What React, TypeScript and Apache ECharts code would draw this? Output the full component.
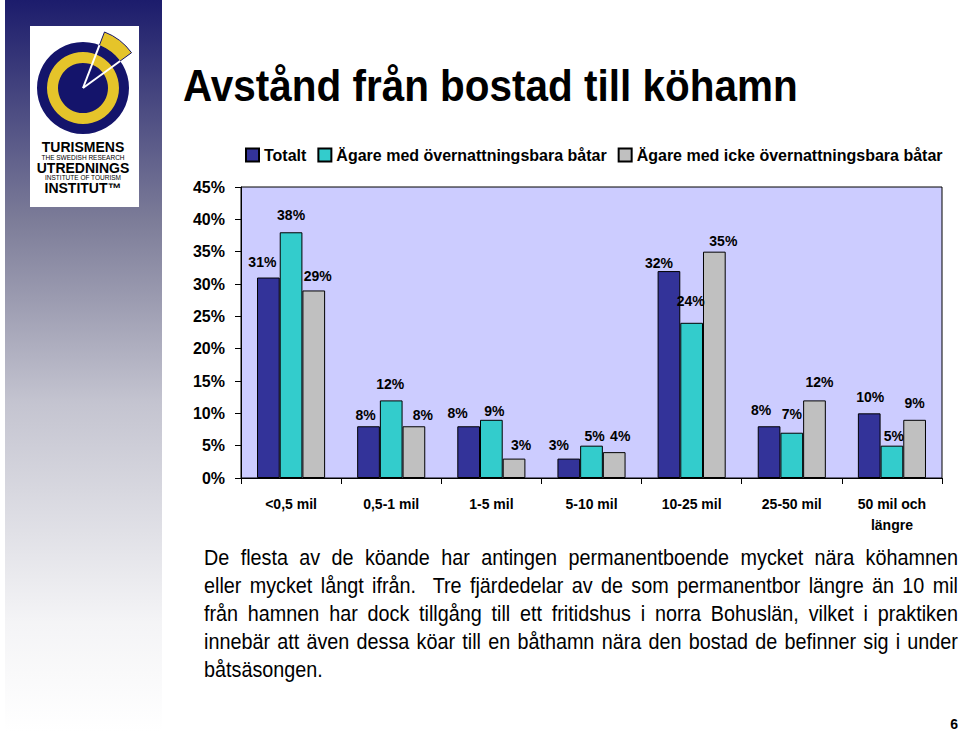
import React, { useEffect, useRef } from "react";
import * as echarts from "echarts";

const categories = ["<0,5 mil", "0,5-1 mil", "1-5 mil", "5-10 mil", "10-25 mil", "25-50 mil", "50 mil och\nlängre"];
const seriesNames = ["Totalt", "Ägare med övernattningsbara båtar", "Ägare med icke övernattningsbara båtar"];
const totalt = [31, 8, 8, 3, 32, 8, 10];
const overnatt = [38, 12, 9, 5, 24, 7, 5];
const icke = [29, 8, 3, 4, 35, 12, 9];
const yTicks = [0, 5, 10, 15, 20, 25, 30, 35, 40, 45];

// label nudges (styling only)
const totaltOff = [[-6, -15.5], [-3, -11], [-11, -13], [-10, -14], [-10, -8], [-8, -16], [1, -16]];
const overOff = [[0, -17], [-1, -16], [3, -9], [3, -10], [-1, -22], [0, -19], [2, -10]];
const ickeOff = [[4, -14.5], [9, -11], [7, -14], [6, -16], [9, -11], [5, -18], [0, -17]];

const titleText = "Avstånd från bostad till köhamn";
const bodyLines = [
  "De flesta av de köande har antingen permanentboende mycket nära köhamnen",
  "eller mycket långt ifrån.  Tre fjärdedelar av de som permanentbor längre än 10 mil",
  "från hamnen har dock tillgång till ett fritidshus i norra Bohuslän, vilket i praktiken",
  "innebär att även dessa köar till en båthamn nära den bostad de befinner sig i under",
  "båtsäsongen.",
];

const FONT = "'Liberation Sans', Arial, Helvetica, sans-serif";
const NAVY = "#14146b";
const YELLOW = "#e5c42a";

export default function App() {
  const ref = useRef<HTMLDivElement>(null);
  useEffect(() => {
    document.body.style.margin = "0";
    if (!ref.current) return;
    const chart = echarts.init(ref.current, null, { renderer: "svg" });

    const BODY_FONT = "22px " + FONT;
    const BODY_SX = 0.9;
    const canvas = document.createElement("canvas");
    const ctx = canvas.getContext("2d")!;
    ctx.font = BODY_FONT;

    const bodyX = 204;
    const bodyRight = 958;
    const bodyY0 = 557;
    const bodyLH = 28;
    const bodyEls: any[] = [];
    bodyLines.forEach((line, i) => {
      const y = bodyY0 + i * bodyLH;
      if (i === bodyLines.length - 1) {
        bodyEls.push({
          type: "text", x: bodyX, y, scaleX: BODY_SX,
          style: { text: line, font: BODY_FONT, fill: "#000", textVerticalAlign: "middle", textAlign: "left" },
        });
        return;
      }
      const words = line.split(" ");
      const widths = words.map((w) => ctx.measureText(w).width * BODY_SX);
      const total = widths.reduce((a, b) => a + b, 0);
      const gap = (bodyRight - bodyX - total) / (words.length - 1);
      let x = bodyX;
      words.forEach((w, k) => {
        if (w.length) {
          bodyEls.push({
            type: "text", x, y, scaleX: BODY_SX,
            style: { text: w, font: BODY_FONT, fill: "#000", textVerticalAlign: "middle", textAlign: "left" },
          });
        }
        x += widths[k] + gap;
      });
    });

    const mk = (name: string, vals: number[], offs: number[][], color: string) => ({
      name,
      type: "bar",
      barGap: "0%",
      barCategoryGap: "32%",
      itemStyle: { color, borderColor: "#000", borderWidth: 1 },
      data: vals.map((v, i) => ({
        value: v,
        label: { offset: [offs[i][0], offs[i][1] + 7] },
      })),
      label: {
        show: true,
        position: "top",
        distance: 0,
        formatter: "{c}%",
        fontFamily: FONT,
        fontWeight: "bold",
        fontSize: 14,
        color: "#000",
      },
    });

    const a1 = (-69 * Math.PI) / 180;
    const a2 = (-36 * Math.PI) / 180;
    const cx = 83, cy = 88;

    chart.setOption({
      animation: false,
      backgroundColor: "#fff",
      graphic: [
        {
          type: "rect", z: -10,
          shape: { x: 5, y: 0, width: 157, height: 732 },
          style: {
            fill: new echarts.graphic.LinearGradient(0, 0, 0, 1, [
              { offset: 0, color: "#1c1c6c" },
              { offset: 0.3, color: "#7c7c98" },
              { offset: 0.55, color: "#c4c4d0" },
              { offset: 0.85, color: "#f4f4f6" },
              { offset: 1, color: "#ffffff" },
            ]),
          },
        },
        { type: "rect", shape: { x: 30, y: 26, width: 109, height: 181 }, style: { fill: "#fff" } },
        {
          type: "sector",
          shape: { cx, cy, r0: 45, r: 60, startAngle: a1, endAngle: a2, clockwise: true },
          style: { fill: YELLOW, stroke: NAVY, lineWidth: 1 },
        },
        { type: "circle", shape: { cx, cy, r: 46 }, style: { fill: NAVY } },
        { type: "ring", shape: { cx, cy, r0: 25, r: 36 }, style: { fill: YELLOW } },
        {
          type: "line",
          shape: { x1: cx, y1: cy, x2: cx + 46 * Math.cos(a1), y2: cy + 46 * Math.sin(a1) },
          style: { stroke: "#fff", lineWidth: 2 },
        },
        {
          type: "line",
          shape: { x1: cx, y1: cy, x2: cx + 46 * Math.cos(a2), y2: cy + 46 * Math.sin(a2) },
          style: { stroke: "#fff", lineWidth: 2 },
        },
        { type: "text", x: 83, y: 147, style: { text: "TURISMENS", font: "bold 14px " + FONT, fill: "#000", textAlign: "center", textVerticalAlign: "middle" } },
        { type: "text", x: 83, y: 157.5, style: { text: "THE SWEDISH RESEARCH", font: "6.5px " + FONT, fill: "#000", textAlign: "center", textVerticalAlign: "middle" } },
        { type: "text", x: 83, y: 167.5, style: { text: "UTREDNINGS", font: "bold 14px " + FONT, fill: "#000", textAlign: "center", textVerticalAlign: "middle" } },
        { type: "text", x: 83, y: 177.5, style: { text: "INSTITUTE OF TOURISM", font: "6.5px " + FONT, fill: "#000", textAlign: "center", textVerticalAlign: "middle" } },
        { type: "text", x: 83, y: 187.5, style: { text: "INSTITUT™", font: "bold 14px " + FONT, fill: "#000", textAlign: "center", textVerticalAlign: "middle" } },
        { type: "text", x: 183, y: 86, scaleX: 0.92, style: { text: titleText, font: "bold 44px " + FONT, fill: "#000", textAlign: "left", textVerticalAlign: "middle" } },
        ...bodyEls,
        { type: "text", x: 958, y: 724, style: { text: "6", font: "bold 14px " + FONT, fill: "#000", textAlign: "right", textVerticalAlign: "middle" } },
      ],
      legend: {
        show: true,
        left: 240,
        top: 142,
        itemWidth: 13,
        itemHeight: 13,
        itemGap: 11,
        icon: "rect",
        textStyle: { fontFamily: FONT, fontWeight: "bold", fontSize: 16, color: "#000" },
        data: seriesNames,
      },
      grid: {
        left: 241,
        right: 18,
        top: 187,
        bottom: 254,
        show: true,
        backgroundColor: "#ccccff",
        borderColor: "#000",
        borderWidth: 1,
      },
      xAxis: {
        type: "category",
        data: categories,
        axisLine: { lineStyle: { color: "#000", width: 1 } },
        axisTick: { show: true, length: 6, lineStyle: { color: "#000" } },
        axisLabel: {
          interval: 0,
          margin: 15,
          fontFamily: FONT,
          fontWeight: "bold",
          fontSize: 14,
          lineHeight: 21,
          color: "#000",
        },
      },
      yAxis: {
        type: "value",
        min: 0,
        max: yTicks[yTicks.length - 1],
        interval: 5,
        splitLine: { show: false },
        axisLine: { show: true, lineStyle: { color: "#000", width: 1 } },
        axisTick: { show: true, length: 6, lineStyle: { color: "#000" } },
        axisLabel: {
          margin: 16,
          formatter: "{value}%",
          fontFamily: FONT,
          fontWeight: "bold",
          fontSize: 16,
          color: "#000",
        },
      },
      series: [
        mk(seriesNames[0], totalt, totaltOff, "#333399"),
        mk(seriesNames[1], overnatt, overOff, "#33cccc"),
        mk(seriesNames[2], icke, ickeOff, "#c0c0c0"),
      ],
    });
    return () => chart.dispose();
  }, []);
  return <div ref={ref} style={{ width: 960, height: 732 }} />;
}
